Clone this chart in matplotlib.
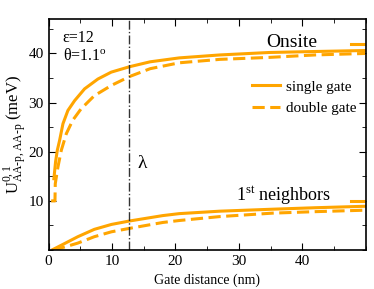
import numpy as np
import matplotlib
matplotlib.use("Agg")
import matplotlib.pyplot as plt
from matplotlib.ticker import MultipleLocator

plt.rcParams['font.family'] = ['Liberation Serif', 'DejaVu Serif']
plt.rcParams['mathtext.fontset'] = 'custom'
plt.rcParams['mathtext.rm'] = 'Liberation Serif'
plt.rcParams['mathtext.it'] = 'Liberation Serif'

# onsite, single gate
x_on_s = [0.83, 1.1, 1.37, 1.73, 2.26, 3.04, 4.1, 5.67, 7.77, 9.87, 12.75, 16.0, 20.6, 27.0, 34.8, 42.0, 49.9]
y_on_s = [14.5, 18.0, 20.3, 22.3, 25.7, 28.4, 30.4, 32.8, 34.8, 36.2, 37.3, 38.3, 39.1, 39.7, 40.2, 40.4, 40.6]
# onsite, double gate
x_on_d = [0.4, 1.0, 1.05, 1.47, 2.0, 2.8, 3.8, 5.1, 7.2, 9.9, 12.75, 16.0, 20.6, 27.0, 34.8, 42.0, 49.9]
y_on_d = [10.0, 10.0, 13.5, 16.9, 20.3, 23.7, 26.4, 28.7, 31.4, 33.5, 35.3, 36.9, 38.1, 38.8, 39.2, 39.7, 40.0]
# 1st neighbors, single gate
x_nb_s = [0.68, 2.5, 4.6, 7.2, 9.9, 12.75, 18.0, 20.6, 27.0, 35.3, 42.0, 49.9]
y_nb_s = [0.1, 1.3, 2.7, 4.2, 5.2, 5.9, 7.0, 7.4, 7.9, 8.3, 8.6, 8.9]
# 1st neighbors, double gate
x_nb_d = [0.68, 2.5, 4.6, 7.2, 9.9, 12.75, 18.0, 20.6, 27.0, 35.3, 42.0, 49.9]
y_nb_d = [0.0, 0.6, 1.4, 2.7, 3.7, 4.4, 5.6, 6.0, 6.8, 7.5, 7.8, 8.1]

# limits drawn at the right edge
limits = [42.0, 10.0]
lam = 12.75

orange = '#FFA500'

fig, ax = plt.subplots(figsize=(3.74, 2.89), dpi=100)
fig.subplots_adjust(left=0.13, right=0.978, top=0.934, bottom=0.135)

ax.plot(x_on_s, y_on_s, color=orange, lw=2.2, label='single gate')
ax.plot(x_on_d, y_on_d, color=orange, lw=2.2, ls=(0, (4, 1.8)), label='double gate')
ax.plot(x_nb_s, y_nb_s, color=orange, lw=2.2)
ax.plot(x_nb_d, y_nb_d, color=orange, lw=2.2, ls=(0, (4, 1.8)))
for v in limits:
    ax.plot([47.7, 50], [v, v], color=orange, lw=2.2)

ax.axvline(lam, color='#333333', lw=1.0, ls='-.')

ax.set_xlim(0, 50)
ax.set_ylim(0, 47)
ax.set_xticks([0, 10, 20, 30, 40])
ax.set_yticks([10, 20, 30, 40])
ax.xaxis.set_minor_locator(MultipleLocator(5))
ax.yaxis.set_minor_locator(MultipleLocator(5))
ax.tick_params(which='both', direction='in', top=True, right=True, labelsize=11)
ax.tick_params(which='major', length=5)
ax.tick_params(which='minor', length=3)
for s in ax.spines.values():
    s.set_linewidth(1.2)

ax.set_xlabel('Gate distance (nm)', fontsize=10)
ax.set_ylabel(r'U$^{0,1}_{\mathrm{AA\text{-}p,AA\text{-}p}}$ (meV)', fontsize=12)
ax.yaxis.set_label_coords(-0.062, 0.5)

ax.text(2.2, 42.4, 'ε=12', fontsize=11.5)
ax.text(2.2, 38.7, 'θ=1.1$^{\\mathrm{o}}$', fontsize=11.5)
ax.text(38.3, 41.3, 'Onsite', fontsize=14, ha='center')
ax.text(14.0, 16.6, 'λ', fontsize=14)
ax.text(37.0, 10.2, '1$^{\\mathrm{st}}$ neighbors', fontsize=13, ha='center')

ax.legend(loc='center right', bbox_to_anchor=(1.0, 0.66), frameon=False, fontsize=11,
          handlelength=1.8, handletextpad=0.4, borderaxespad=0.2)

fig.savefig('out.png', dpi=100)
